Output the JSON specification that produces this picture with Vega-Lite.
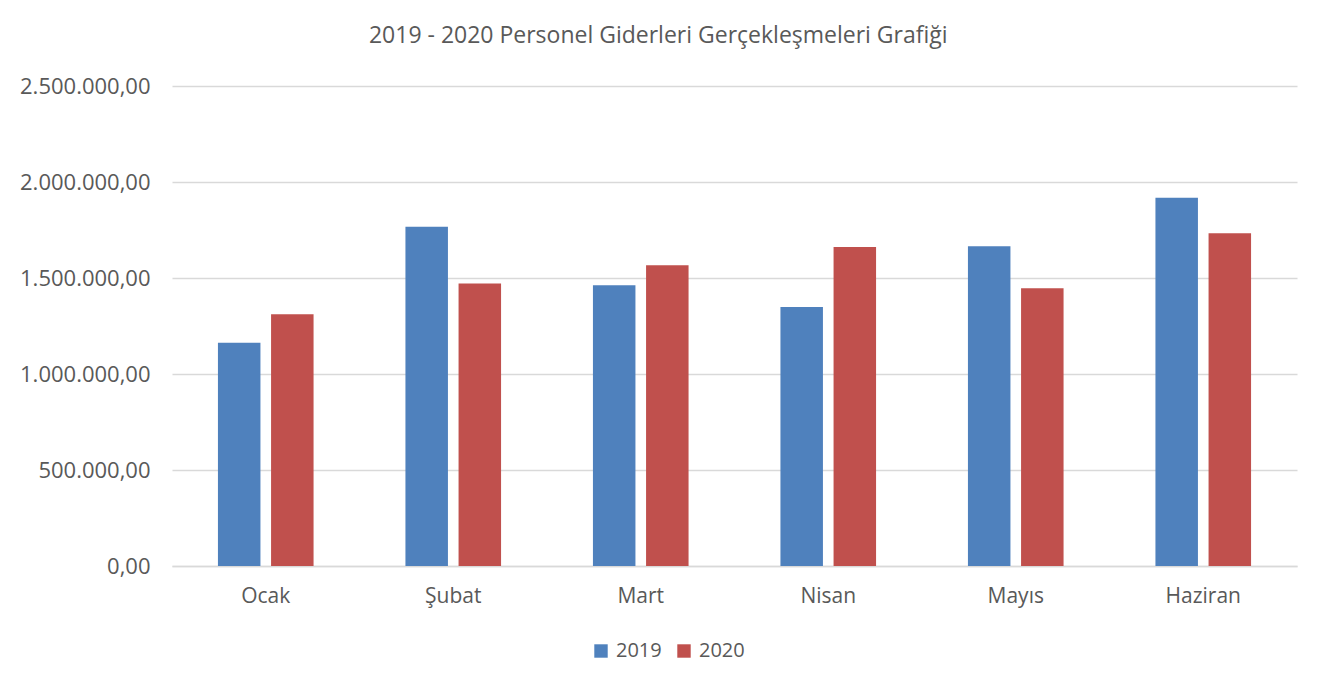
{
  "$schema": "https://vega.github.io/schema/vega-lite/v6.json",
  "width": 1125,
  "height": 480,
  "autosize": {"type": "none"},
  "padding": {"left": 172, "top": 86, "right": 31, "bottom": 124},
  "background": "white",
  "title": {
    "text": "2019 - 2020 Personel Giderleri Gerçekleşmeleri Grafiği",
    "font": "Open Sans",
    "fontSize": 23,
    "fontWeight": "normal",
    "color": "#595959",
    "anchor": "middle",
    "frame": "bounds",
    "offset": 27
  },
  "data": {
    "values": [
      {"ay": "Ocak", "yil": "2019", "deger": 1163000},
      {"ay": "Ocak", "yil": "2020", "deger": 1311000},
      {"ay": "Şubat", "yil": "2019", "deger": 1767000},
      {"ay": "Şubat", "yil": "2020", "deger": 1472000},
      {"ay": "Mart", "yil": "2019", "deger": 1462000},
      {"ay": "Mart", "yil": "2020", "deger": 1566000},
      {"ay": "Nisan", "yil": "2019", "deger": 1349000},
      {"ay": "Nisan", "yil": "2020", "deger": 1661000},
      {"ay": "Mayıs", "yil": "2019", "deger": 1665000},
      {"ay": "Mayıs", "yil": "2020", "deger": 1446000},
      {"ay": "Haziran", "yil": "2019", "deger": 1918000},
      {"ay": "Haziran", "yil": "2020", "deger": 1733000}
    ]
  },
  "mark": {"type": "bar"},
  "encoding": {
    "x": {
      "field": "ay",
      "type": "nominal",
      "sort": ["Ocak", "Şubat", "Mart", "Nisan", "Mayıs", "Haziran"],
      "scale": {"paddingInner": 0.49, "paddingOuter": 0.245},
      "axis": {
        "title": null,
        "labelAngle": 0,
        "labelFont": "Open Sans",
        "labelFontSize": 21,
        "labelColor": "#595959",
        "labelPadding": 19,
        "ticks": false,
        "domain": true,
        "domainColor": "#d9d9d9",
        "domainWidth": 1.5
      }
    },
    "xOffset": {
      "field": "yil",
      "type": "nominal",
      "scale": {"paddingInner": 0.2, "paddingOuter": 0}
    },
    "y": {
      "field": "deger",
      "type": "quantitative",
      "scale": {"domain": [0, 2500000], "nice": false},
      "axis": {
        "title": null,
        "values": [0, 500000, 1000000, 1500000, 2000000, 2500000],
        "format": ",.2f",
        "labelFont": "Open Sans",
        "labelFontSize": 22,
        "labelColor": "#595959",
        "labelPadding": 22,
        "ticks": false,
        "domain": false,
        "gridColor": "#d9d9d9",
        "gridWidth": 1.5
      }
    },
    "color": {
      "field": "yil",
      "type": "nominal",
      "scale": {"domain": ["2019", "2020"], "range": ["#4F81BD", "#C0504D"]},
      "legend": {
        "title": null,
        "orient": "none",
        "direction": "horizontal",
        "legendX": 419,
        "legendY": 555,
        "symbolType": "square",
        "symbolSize": 180,
        "symbolStrokeWidth": 0,
        "labelFont": "Open Sans",
        "labelFontSize": 20,
        "labelColor": "#595959",
        "columnPadding": 12,
        "labelOffset": 5
      }
    }
  },
  "config": {
    "locale": {
      "number": {
        "decimal": ",",
        "thousands": ".",
        "grouping": [3],
        "currency": ["", " TL"]
      }
    },
    "view": {"stroke": null}
  }
}
